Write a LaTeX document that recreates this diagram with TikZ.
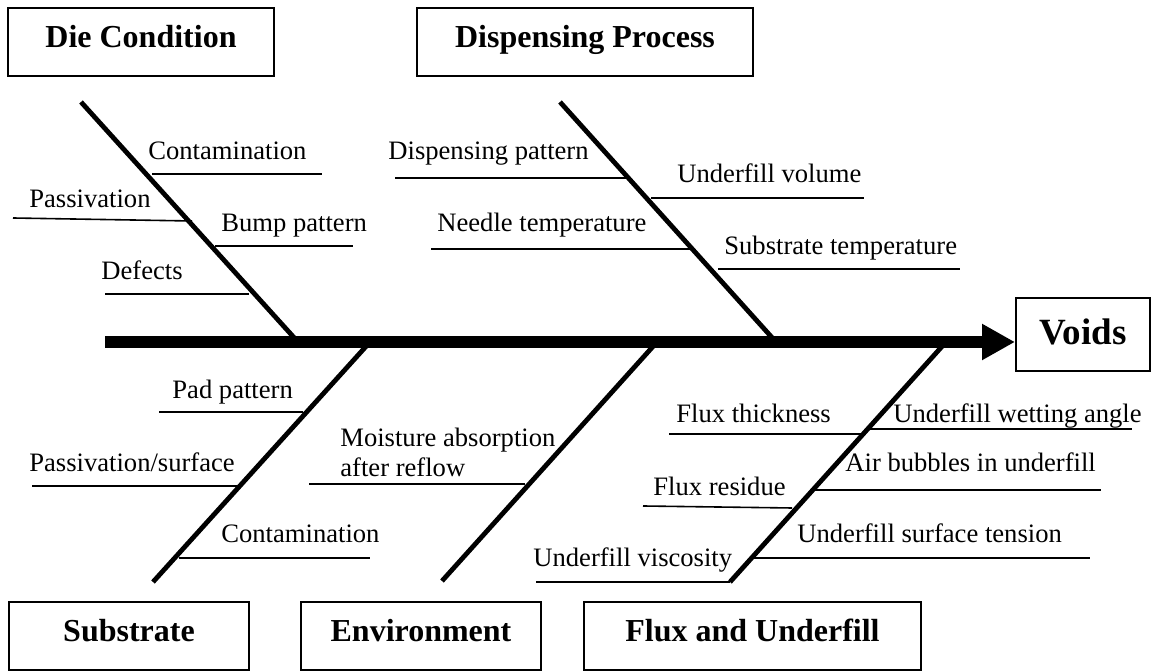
\documentclass[tikz,border=0pt]{standalone}
\usepackage{fontspec}
\setmainfont{Liberation Serif}
\usetikzlibrary{arrows.meta}

\tikzset{
  cat_box/.style={draw,line width=1pt,inner sep=0pt,minimum height=34pt,text height=10.5pt,text depth=4.5pt,font=\fontsize{16}{19}\selectfont\bfseries},
  effect_box/.style={draw,line width=1pt,inner sep=0pt,minimum width=67pt,minimum height=36.5pt,text height=12pt,text depth=1.5pt,font=\fontsize{18.5}{22}\selectfont\bfseries},
  cause_txt/.style={anchor=base west,inner sep=0pt,align=left,font=\fontsize{13.3}{15}\selectfont},
  cause_line/.style={line width=0.8pt},
}

\begin{document}
\begin{tikzpicture}[
  x=0.5pt, y=-0.5pt,
  bone line/.style={line width=2.4pt},
  spine line/.style={line width=6pt,-{Triangle[length=16.5pt,width=17pt]}},
  ]

  \useasboundingbox (0,0) rectangle (1158,672);

  % categories and effect
  \node[cat_box,minimum width=133pt] (die) at (141,42) {Die Condition};
  \node[cat_box,minimum width=168pt] (disp) at (585,42) {Dispensing Process};
  \node[cat_box,minimum width=120pt] (subs) at (129,636) {Substrate};
  \node[cat_box,minimum width=120pt] (env) at (421,636) {Environment};
  \node[cat_box,minimum width=168.5pt] (flux) at (752.5,636) {Flux and Underfill};
  \node[effect_box] (voids) at (1083,334.5) {Voids};

  % bones
  \coordinate (die_head) at (81,102);
  \coordinate (die_foot) at (298,342);
  \coordinate (disp_head) at (560,102);
  \coordinate (disp_foot) at (776,342);
  \coordinate (subs_head) at (153,582);
  \coordinate (subs_foot) at (370,342);
  \coordinate (env_head) at (442,581);
  \coordinate (env_foot) at (657,342);
  \coordinate (flux_head) at (730,582);
  \coordinate (flux_foot) at (946,342);

  \foreach \Bone in {die,disp,subs,env,flux}{
    \draw[bone line] (\Bone_head) -- (\Bone_foot);
  }

  \coordinate (tail) at (105,342);
  \draw[spine line] (tail) -- (tail -| voids.west);

  % causes
  \foreach \Name/\Text/\tx/\ty/\ax/\ay/\bx/\by in {
    die_cont/Contamination/148/160/152/174/322/174,
    die_pass/Passivation/29/208/13/218/192/221,
    die_bump/Bump pattern/221/232/215/246/353/246,
    die_def/Defects/101/280/105/294/249/294,
    disp_pat/Dispensing pattern/388/160/395/178/627/178,
    disp_needle/Needle temperature/437/232/431/249/693/249,
    disp_vol/Underfill volume/677/183/651/198/864/198,
    disp_subt/Substrate temperature/724/255/718/269/960/269,
    subs_pad/Pad pattern/172/399/159/412/303/412,
    subs_pass/{Passivation/surface}/29/472/32/486/237/486,
    subs_cont/Contamination/221/543/179/558/370/558,
    env_moist/{Moisture absorption\\after reflow}/340/477/309/484/525/484,
    flux_thick/Flux thickness/676/423/669/434/861/434,
    flux_wet/Underfill wetting angle/893/423/867/429/1132/429,
    flux_air/Air bubbles in underfill/845/472/814/490/1101/490,
    flux_res/Flux residue/653/496/643/506/792/508,
    flux_tens/Underfill surface tension/797/543/754/558/1090/558,
    flux_visc/Underfill viscosity/533/567/536/582/730/582%
  }{
    \node[cause_txt] (\Name) at (\tx,\ty) {\Text};
    \draw[cause_line] (\ax,\ay) -- (\bx,\by);
  }

\end{tikzpicture}
\end{document}
